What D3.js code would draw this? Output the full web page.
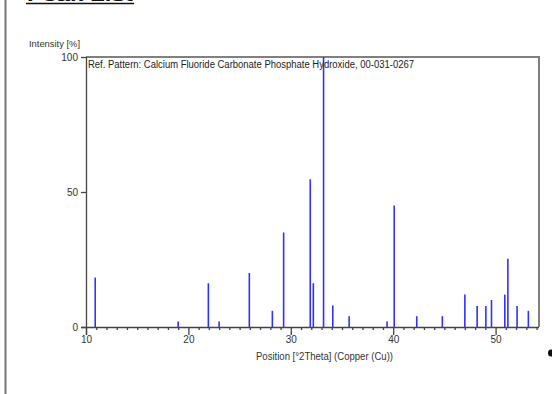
<!DOCTYPE html>
<html>
<head>
<meta charset="utf-8">
<script src="https://cdn.jsdelivr.net/npm/d3@7"></script>
<style>
  html, body { margin: 0; padding: 0; background: #fff; }
  svg { display: block; font-family: "Liberation Sans", Arial, sans-serif; }
</style>
</head>
<body>
<svg id="chart" width="552" height="394"></svg>
<script>
// Reference pattern peaks: 2θ position (degrees) and relative intensity (%)
const positions = [10.9, 19.0, 21.95, 23.0, 25.95, 28.2, 29.3, 31.9, 32.2, 33.2, 34.1, 35.7,
                   39.4, 40.1, 42.3, 44.8, 47.0, 48.2, 49.05, 49.6, 50.9, 51.2, 52.1, 53.2];
const intensities = [18.3, 2, 16.2, 2, 20, 6, 35, 54.7, 16.2, 100, 8, 4,
                     2, 45, 4, 4, 12, 7.8, 7.8, 10, 12, 25.3, 7.8, 6];
const xTickValues = [10, 20, 30, 40, 50];
const yTickValues = [0, 50, 100];
const titleText = "Peak List";
const patternLabel = "Ref. Pattern: Calcium Fluoride Carbonate Phosphate Hydroxide, 00-031-0267";
const xAxisTitle = "Position [°2Theta] (Copper (Cu))";
const yAxisTitle = "Intensity [%]";

const svg = d3.select("#chart");
const plotLeft = 86, plotRight = 539, plotTop = 57, plotBottom = 327;

const x = d3.scaleLinear().domain([10, 54.24]).range([plotLeft, plotRight]);
const y = d3.scaleLinear().domain([0, 100]).range([plotBottom, plotTop]);

// page border on the left
svg.append("line").attr("x1", 5.5).attr("x2", 5.5).attr("y1", 0).attr("y2", 394)
  .attr("stroke", "#777").attr("stroke-width", 2);

// section heading (cut at the top edge)
svg.append("text").attr("x", 27).attr("y", 1).attr("font-size", 13).attr("font-weight", "bold")
  .attr("fill", "#111").attr("textLength", 106).attr("lengthAdjust", "spacingAndGlyphs")
  .text(titleText);
svg.append("line").attr("x1", 26).attr("x2", 134).attr("y1", 3.5).attr("y2", 3.5)
  .attr("stroke", "#111").attr("stroke-width", 1.5);

// plot frame (top and right sides)
svg.append("path")
  .attr("d", `M${plotLeft},${plotTop}H${plotRight}V${plotBottom}`)
  .attr("fill", "none").attr("stroke", "#808080").attr("stroke-width", 2);

// peaks
svg.append("g").selectAll("line").data(positions).join("line")
  .attr("x1", d => x(d)).attr("x2", d => x(d))
  .attr("y1", y(0)).attr("y2", (d, i) => y(intensities[i]))
  .attr("stroke", "#3030ff").attr("stroke-width", 1.6);

// x axis: major ticks with labels, minor ticks every degree
const xAxis = d3.axisBottom(x).tickValues(xTickValues).tickSize(8).tickFormat(d3.format("d"));
const gx = svg.append("g").attr("transform", `translate(0,${plotBottom})`).call(xAxis);
gx.select(".domain").attr("d", `M${plotLeft - 5},0.5H${plotRight}`).attr("stroke", "#444").attr("stroke-width", 1.3);
gx.selectAll(".tick line").attr("stroke", "#444").attr("stroke-width", 1.3);
gx.selectAll(".tick text").attr("font-size", 10).attr("fill", "#333").attr("dy", "0.5em")
  .attr("font-family", "Liberation Sans, Arial, sans-serif");

const minor = d3.range(11, 55).filter(v => v % 10 !== 0);
svg.append("g").selectAll("line").data(minor).join("line")
  .attr("x1", d => x(d) + 0.5).attr("x2", d => x(d) + 0.5)
  .attr("y1", plotBottom).attr("y2", plotBottom + 3)
  .attr("stroke", "#444").attr("stroke-width", 1.3);

// y axis
const yAxis = d3.axisLeft(y).tickValues(yTickValues).tickSize(5).tickFormat(d3.format("d"));
const gy = svg.append("g").attr("transform", `translate(${plotLeft},0)`).call(yAxis);
gy.select(".domain").attr("d", `M0.5,${plotTop}V${plotBottom + 8}`).attr("stroke", "#444").attr("stroke-width", 1.3);
gy.selectAll(".tick line").attr("stroke", "#444").attr("stroke-width", 1.3);
gy.selectAll(".tick text").attr("font-size", 10).attr("fill", "#333")
  .attr("font-family", "Liberation Sans, Arial, sans-serif");

// axis titles
svg.append("text").attr("x", 29).attr("y", 47).attr("font-size", 9.5).attr("fill", "#333")
  .attr("textLength", 51).attr("lengthAdjust", "spacingAndGlyphs").text(yAxisTitle);
svg.append("text").attr("x", 256).attr("y", 360).attr("font-size", 10).attr("fill", "#333")
  .attr("textLength", 137).attr("lengthAdjust", "spacingAndGlyphs").text(xAxisTitle);

// pattern label inside the frame
svg.append("text").attr("x", 88).attr("y", 68).attr("font-size", 10).attr("fill", "#222")
  .attr("textLength", 326).attr("lengthAdjust", "spacingAndGlyphs").text(patternLabel);

// bullet at the right edge
svg.append("ellipse").attr("cx", 551).attr("cy", 353).attr("rx", 3).attr("ry", 3.5).attr("fill", "#111");
</script>
</body>
</html>
